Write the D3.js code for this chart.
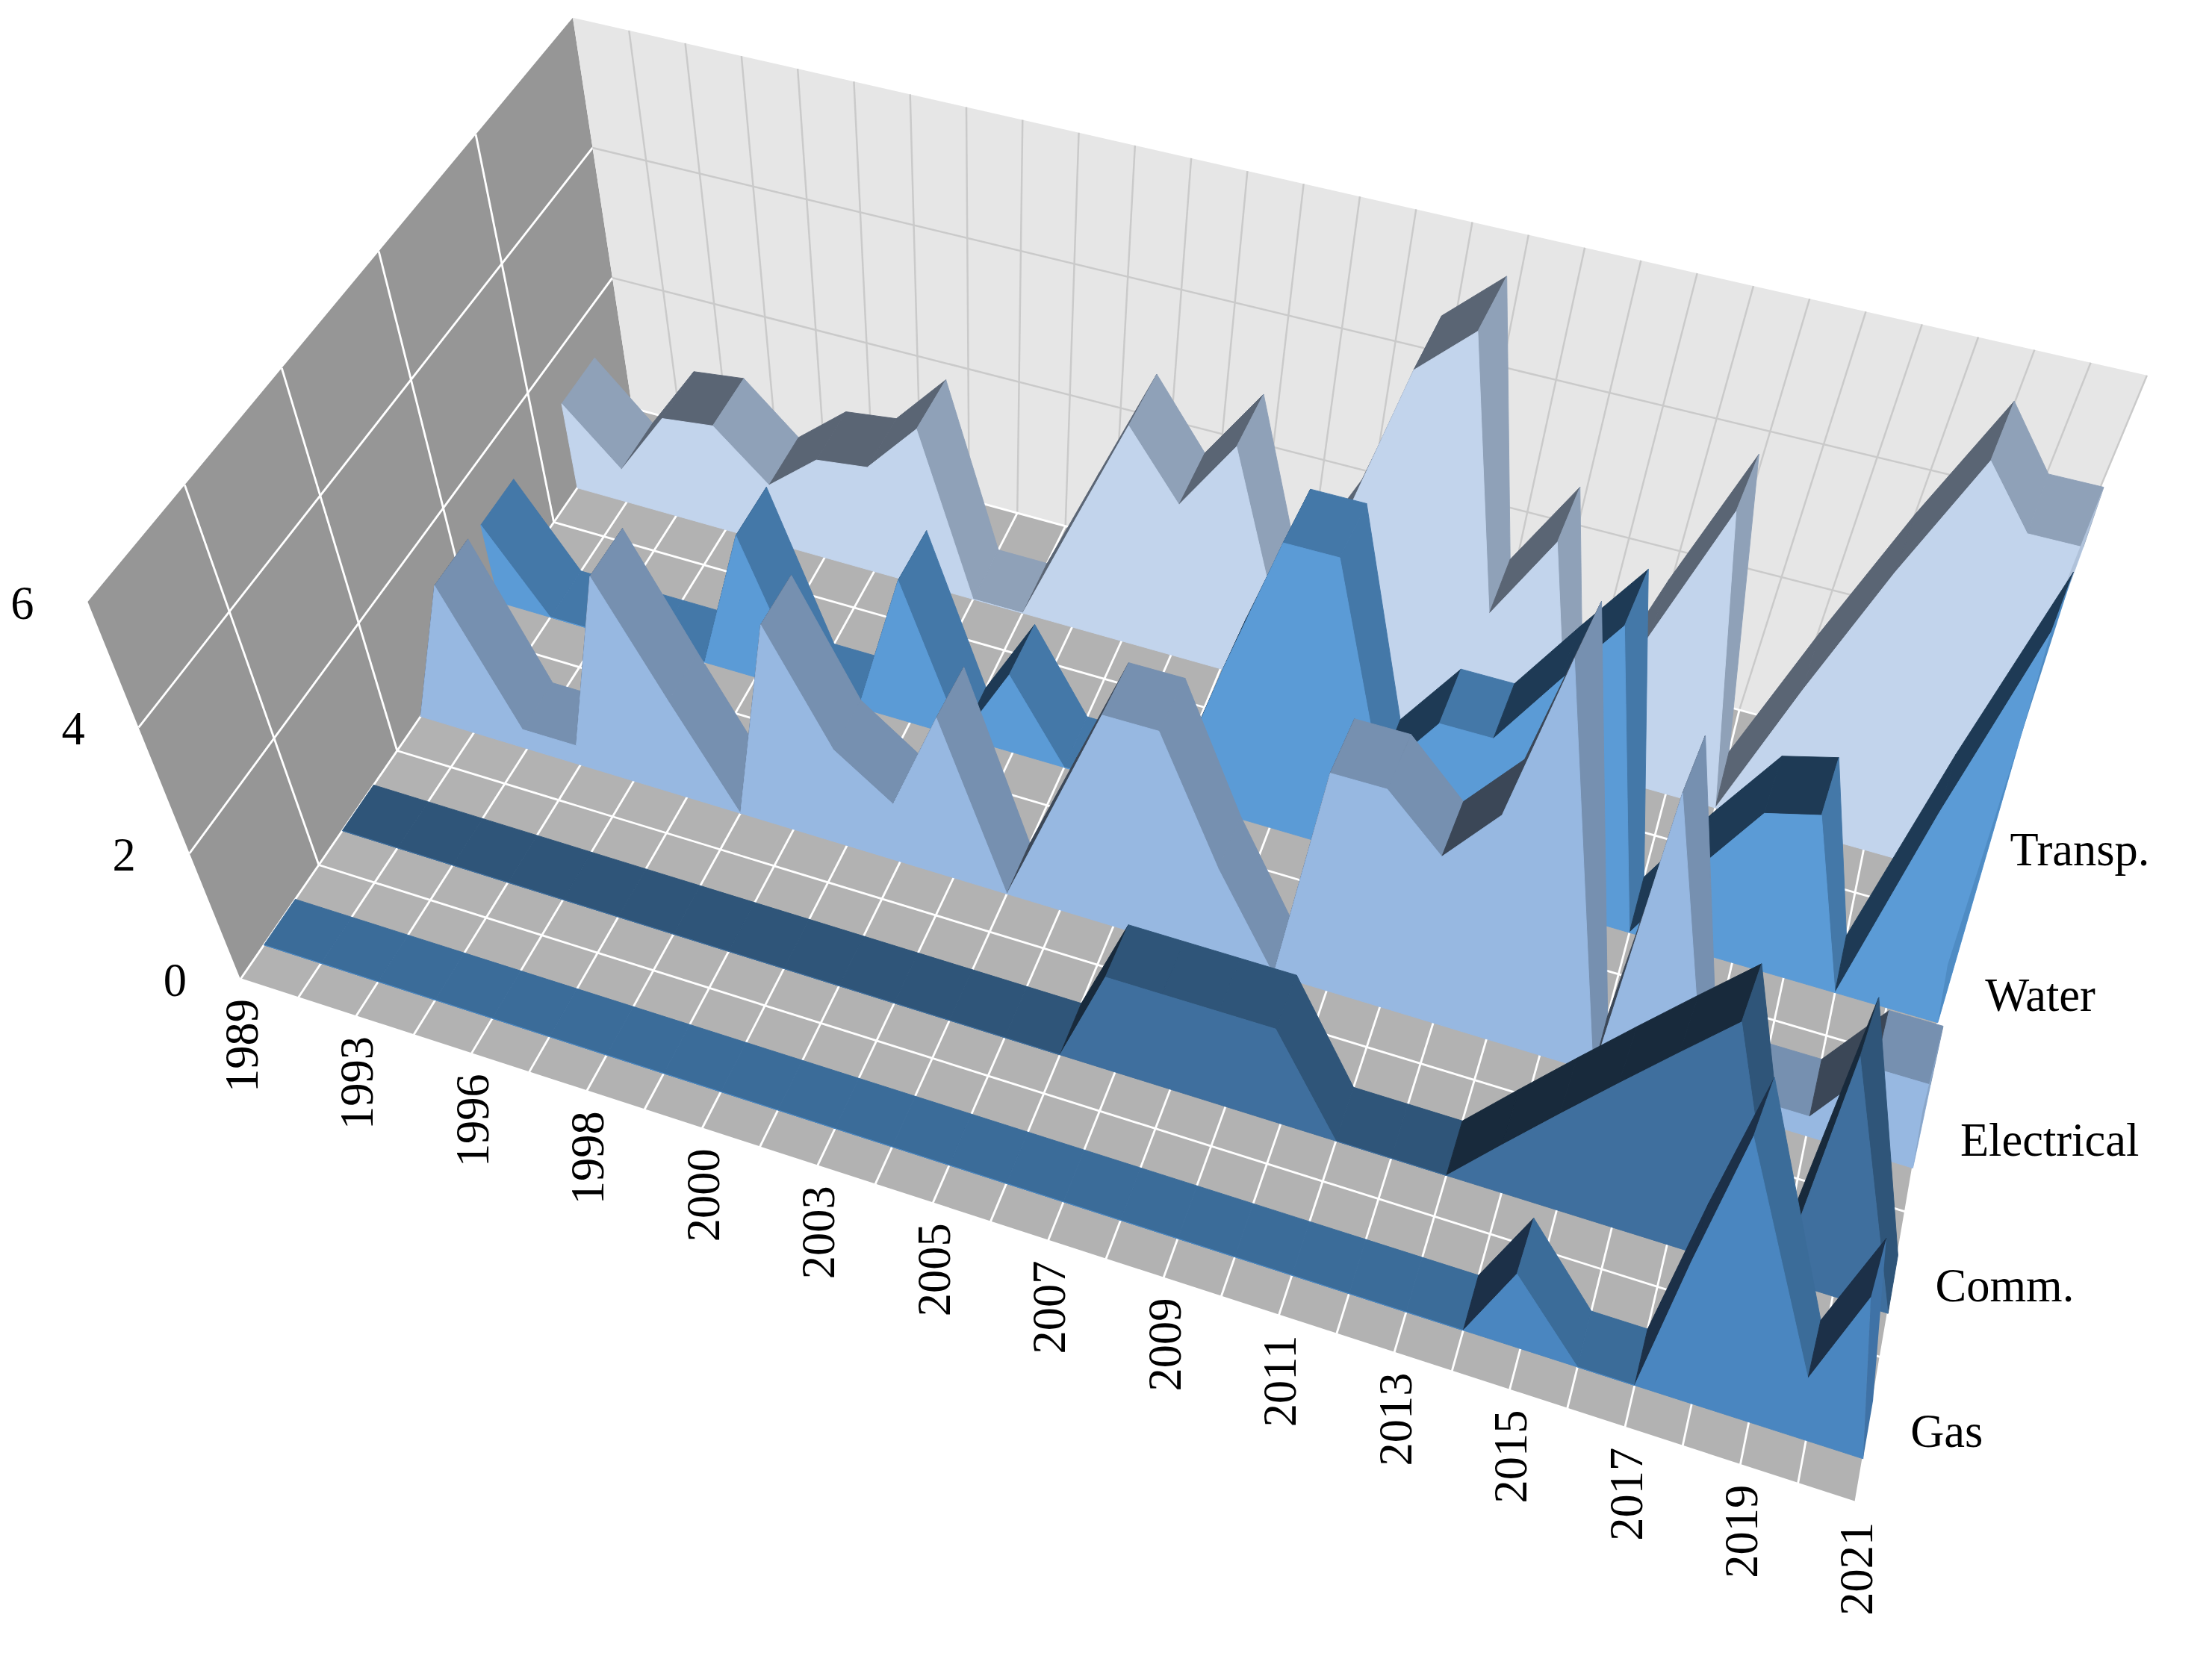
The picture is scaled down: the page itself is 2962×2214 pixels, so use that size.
<!DOCTYPE html>
<html><head><meta charset="utf-8">
<script src="https://cdn.jsdelivr.net/npm/d3@7"></script>
<style>html,body{margin:0;padding:0;background:#fff}</style>
</head><body>
<svg id="c" width="2962" height="2214" viewBox="0 0 1564 1168"></svg>
<script>
const years = ["1989","1991","1993","1995","1996","1997","1998","1999","2000","2002","2003","2004","2005","2006","2007","2008","2009","2010","2011","2012","2013","2014","2015","2016","2017","2018","2019","2020","2021"];
const seriesNames = ["Gas","Comm.","Electrical","Water","Transp."];
const gas = [0,0,0,0,0,0,0,0,0,0,0,0,0,0,0,0,0,0,0,0,0,0,1.2,0,0,2.3,4.6,1.0,2.6];
const comm = [0,0,0,0,0,0,0,0,0,0,0,0,0,0,1.5,1.5,1.5,1.5,0,0,0,0.76,1.52,2.28,3.04,3.8,0,3.8,0];
const electrical = [0,2.3,0.3,0.3,3.2,1.5,0,3.2,1.5,0.9,2.5,0,1.6,3.3,3.3,1.4,0,3.4,3.4,2.6,3.5,6.2,0,4.6,0.3,0.3,0.3,1.3,1.3];
const water = [1.2,0,0,0,0,2.2,0,0,2.2,0,1.2,0,0,0,2.2,4.4,4.4,1.3,2.3,2.3,3.4,4.5,0,1.2,2.3,2.5,0,3.0,6.0];
const transp = [1.3,0.5,1.5,1.6,0.9,1.5,1.6,2.4,0,0,1.6,3.3,2.3,3.4,1.0,2.5,5.2,6.0,1.9,3.2,0,2.2,4.3,0,2.0,4.0,5.9,5.0,5.0];
const valueTicks = [0,2,4,6];

const seriesData = [gas, comm, electrical, water, transp];
const colors = [
  {front:"#4a86c0", top:"#3b6c99", asc:"#1c3048", end:"#3f72a6"},
  {front:"#3f6f9e", top:"#2f5579", asc:"#182a3c", end:"#34608a"},
  {front:"#97b8e1", top:"#7690b0", asc:"#3b4757", end:"#8aa6c8"},
  {front:"#5b9bd6", top:"#4478a8", asc:"#1e3a55", end:"#4f8cc4"},
  {front:"#c2d4ec", top:"#8fa1b8", asc:"#5a6574", end:"#b0c2da"}
];

const svg = d3.select("#c");
const xS = d3.scaleLinear().domain([0, years.length-1]).range([0,1]);
const dS = d3.scaleLinear().domain([0,5]).range([0,1]);
const vS = d3.scaleLinear().domain([0,6]).range([0,1]);
const F = {a:[170,692], b:[1312,1062], c:[447,288], e:[1400,548]};
const T = {a:[62,425], b:[1318,800], c:[405,12], e:[1518,265]};
function bil(C,u,w){
  const x = (1-u)*(1-w)*C.a[0] + u*(1-w)*C.b[0] + (1-u)*w*C.c[0] + u*w*C.e[0];
  const y = (1-u)*(1-w)*C.a[1] + u*(1-w)*C.b[1] + (1-u)*w*C.c[1] + u*w*C.e[1];
  return [x,y];
}
function P(i,d,v){
  const u=xS(i), w=dS(d), t=vS(v);
  const f=bil(F,u,w), g=bil(T,u,w);
  return [f[0]+(g[0]-f[0])*t, f[1]+(g[1]-f[1])*t];
}
const line = d3.line();
const poly = pts => line(pts)+"Z";
const N = years.length-1;

const gW = svg.append("g");
gW.append("path").attr("d",poly([P(0,0,0),P(0,5,0),P(0,5,6),P(0,0,6)])).attr("fill","#969696");
gW.append("path").attr("d",poly([P(0,5,0),P(N,5,0),P(N,5,6),P(0,5,6)])).attr("fill","#e6e6e6");
gW.append("path").attr("d",poly([P(0,0,0),P(N,0,0),P(N,5,0),P(0,5,0)])).attr("fill","#b2b2b2");
for(let d=1; d<5; d++) gW.append("path").attr("d",line([P(0,d,0),P(0,d,6)])).attr("stroke","#fff").attr("stroke-width",1.5);
[2,4].forEach(v=>gW.append("path").attr("d",line([P(0,0,v),P(0,5,v)])).attr("stroke","#fff").attr("stroke-width",1.5));
for(let i=1;i<=N;i++) gW.append("path").attr("d",line([P(i,5,0),P(i,5,6)])).attr("stroke","#cacaca").attr("stroke-width",1.3);
[2,4].forEach(v=>gW.append("path").attr("d",line([P(0,5,v),P(N,5,v)])).attr("stroke","#cacaca").attr("stroke-width",1.3));
for(let i=0;i<=N;i++) gW.append("path").attr("d",line([P(i,0,0),P(i,5,0)])).attr("stroke","#fff").attr("stroke-width",1.5);
for(let d=0;d<=5;d+=0.5) gW.append("path").attr("d",line([P(0,d,0),P(N,d,0)])).attr("stroke","#fff").attr("stroke-width",1.5);

const gS = svg.append("g");
for(let s=4; s>=0; s--){
  const vals = seriesData[s], c = colors[s];
  const d0 = s+0.3, d1 = s+0.7;
  const g = gS.append("g");
  for(let k=0;k<N;k++){
    const a=vals[k], b=vals[k+1];
    const col = b>a+0.05 ? c.asc : c.top;
    g.append("path").attr("d",poly([P(k,d0,a),P(k+1,d0,b),P(k+1,d1,b),P(k,d1,a)]))
     .attr("fill", col).attr("stroke", col).attr("stroke-width",0.5);
  }
  const fp = vals.map((v,i)=>P(i,d0,v)).concat([P(N,d0,0),P(0,d0,0)]);
  g.append("path").attr("d",poly(fp)).attr("fill",c.front).attr("stroke",c.front).attr("stroke-width",0.5);
  g.append("path").attr("d",poly([P(N,d0,0),P(N,d0,vals[N]),P(N,d1,vals[N]),P(N,d1,0)])).attr("fill",c.end);
}

const font = "Liberation Serif, Times New Roman, serif";
valueTicks.forEach(v=>{
  const p=P(0,0,v);
  svg.append("text").attr("x",p[0]-38).attr("y",p[1]+12).attr("text-anchor","end")
    .attr("font-family",font).attr("font-size",33).attr("fill","#000").text(v);
});
years.forEach((y,i)=>{
  if(i%2) return;
  const p=P(i,0,0);
  svg.append("text").attr("transform",`translate(${p[0]+12},${p[1]+14}) rotate(-90)`)
    .attr("text-anchor","end").attr("font-family",font).attr("font-size",33).attr("fill","#000").text(y);
});
seriesNames.forEach((n,s)=>{
  const p=P(N,s+0.5,0);
  svg.append("text").attr("x",p[0]+30).attr("y",p[1]+12)
    .attr("font-family",font).attr("font-size",33).attr("fill","#000").text(n);
});
</script>
</body></html>
